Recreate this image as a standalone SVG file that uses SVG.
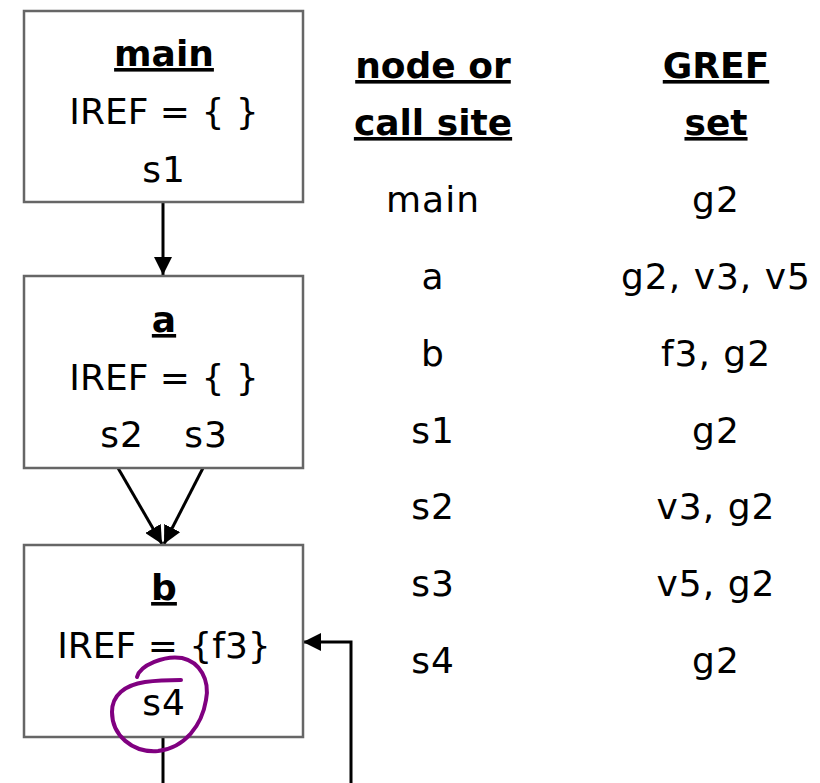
<svg xmlns="http://www.w3.org/2000/svg" width="820" height="783" viewBox="0 0 820 783">
<defs>
<style>
.box{fill:#fff;stroke:#666;stroke-width:2.5}
text{font-family:"DejaVu Sans","Liberation Sans",sans-serif;font-size:36px;fill:#000;text-anchor:middle;letter-spacing:1px}
.h{font-weight:bold;text-decoration:underline;letter-spacing:0}
.ir{letter-spacing:0}
.edge{stroke:#000;stroke-width:3;fill:none}
</style>
<marker id="arr" viewBox="0 0 10 10" refX="10" refY="5" markerWidth="6" markerHeight="6" markerUnits="strokeWidth" orient="auto">
<path d="M0,0 L10,5 L0,10 z" fill="#000"/>
</marker>
</defs>
<rect width="820" height="783" fill="#fff"/>
<g id="connectors">
<line class="edge" x1="163" y1="202" x2="163" y2="275" marker-end="url(#arr)"/>
<line class="edge" x1="118" y1="468" x2="162" y2="544" marker-end="url(#arr)"/>
<line class="edge" x1="203" y1="468" x2="164" y2="544" marker-end="url(#arr)"/>
<line class="edge" x1="163" y1="737" x2="163" y2="783"/>
<polyline class="edge" points="351,783 351,642 303,642" marker-end="url(#arr)"/>
</g>
<g id="node-main">
<rect class="box" x="24" y="11" width="279" height="191"/>
<text class="h" x="164" y="66">main</text>
<text class="ir" x="164" y="124">IREF = { }</text>
<text x="164" y="182">s1</text>
</g>
<g id="node-a">
<rect class="box" x="24" y="276" width="279" height="192"/>
<text class="h" x="164" y="332">a</text>
<text class="ir" x="164" y="390">IREF = { }</text>
<text x="122" y="447">s2</text>
<text x="206" y="447">s3</text>
</g>
<g id="node-b">
<rect class="box" x="24" y="545" width="279" height="192"/>
<text class="h" x="164" y="600">b</text>
<text class="ir" x="164" y="658">IREF = {f3}</text>
<text x="164" y="715">s4</text>
<path d="M137 677 C140 665 165 655 182 658 C200 662 210 680 206 700 C202 725 185 748 158 751 C132 753 112 735 112 712 C112 695 125 685 145 682 C160 680 172 680 181 680" fill="none" stroke="#800080" stroke-width="4" stroke-linecap="round"/>
</g>
<g id="table">
<text class="h" x="433" y="78">node or</text>
<text class="h" x="433" y="135">call site</text>
<text class="h" x="716" y="78">GREF</text>
<text class="h" x="716" y="135">set</text>
<text x="433" y="212">main</text><text x="716" y="212">g2</text>
<text x="433" y="289">a</text><text x="716" y="289">g2, v3, v5</text>
<text x="433" y="366">b</text><text x="716" y="366">f3, g2</text>
<text x="433" y="443">s1</text><text x="716" y="443">g2</text>
<text x="433" y="519">s2</text><text x="716" y="519">v3, g2</text>
<text x="433" y="596">s3</text><text x="716" y="596">v5, g2</text>
<text x="433" y="673">s4</text><text x="716" y="673">g2</text>
</g>
</svg>
